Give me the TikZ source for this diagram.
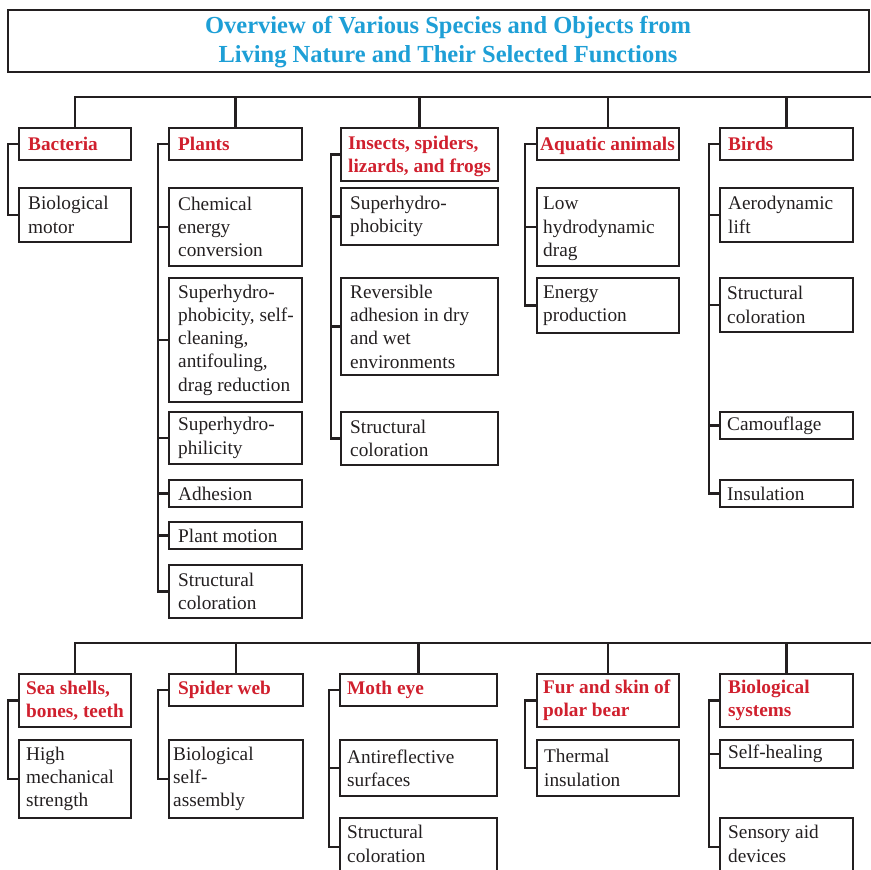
\documentclass[tikz,border=0pt]{standalone}
\usepackage{fontspec}
\setmainfont{Liberation Serif}
\definecolor{titlec}{HTML}{1E9FD6}
\definecolor{redc}{HTML}{D0202E}
\definecolor{linec}{HTML}{231F20}
\newcommand\bodyfnt{\fontsize{19.3}{23.3}\selectfont}
\newcommand\mybox[8]{%
  \node[boxst, minimum width=#4pt, minimum height=#5pt, anchor=north west] (#1) at (#2,#3) {};
  \node[#6txt, anchor=west, #7] (#1t) at (#1.west) {#8};
}
\tikzset{
  boxst/.style={draw=linec, line width=2.2pt, inner sep=0pt, outer sep=0pt},
  hdtxt/.style={font={\bodyfnt\bfseries}, text=redc, align=left, inner sep=0pt},
  chtxt/.style={font=\bodyfnt, text=linec, align=left, inner sep=0pt},
  conn/.style={draw=linec, line width=2.1pt},
}
\begin{document}
\begin{tikzpicture}[x=1pt,y=-1pt]
\useasboundingbox (0,0) rectangle (871,870);
% title
\node[boxst, minimum width=861pt, minimum height=62pt, anchor=north west] (title) at (8,10) {};
\node[font={\fontsize{24.5}{29}\selectfont\bfseries}, text=titlec, align=center, inner sep=0pt] (titletxt) at (448,41.7) {Overview of Various Species and Objects from\\Living Nature and Their Selected Functions};

% ---------- row 1 ----------
\mybox{bac}{19}{128}{112}{32}{hd}{xshift=9pt}{Bacteria}
\mybox{bac1}{19}{188}{112}{54}{ch}{xshift=9pt}{Biological\\motor}

\mybox{pl}{169}{128}{133}{32}{hd}{xshift=9pt}{Plants}
\mybox{pl1}{169}{188}{133}{78}{ch}{xshift=9pt}{Chemical\\energy\\conversion}
\mybox{pl2}{169}{278}{133}{124}{ch}{xshift=9pt}{Superhydro-\\phobicity, self-\\cleaning,\\antifouling,\\drag reduction}
\mybox{pl3}{169}{412}{133}{52}{ch}{xshift=9pt}{Superhydro-\\philicity}
\mybox{pl4}{169}{480}{133}{27}{ch}{xshift=9pt}{Adhesion}
\mybox{pl5}{169}{522}{133}{27}{ch}{xshift=9pt}{Plant motion}
\mybox{pl6}{169}{565}{133}{53}{ch}{xshift=9pt}{Structural\\coloration}

\mybox{in}{341}{128}{157}{53}{hd}{xshift=7pt,yshift=-2pt}{Insects, spiders,\\lizards, and frogs}
\mybox{in1}{341}{188}{157}{57}{ch}{xshift=9pt}{Superhydro-\\phobicity}
\mybox{in2}{341}{278}{157}{97}{ch}{xshift=9pt}{Reversible\\adhesion in dry\\and wet\\environments}
\mybox{in3}{341}{412}{157}{53}{ch}{xshift=9pt}{Structural\\coloration}

\mybox{aq}{537}{128}{142}{32}{hd}{xshift=3pt,yshift=-1.5pt}{Aquatic animals}
\mybox{aq1}{537}{188}{142}{78}{ch}{xshift=6pt,yshift=-2pt}{Low\\hydrodynamic\\drag}
\mybox{aq2}{537}{278}{142}{55}{ch}{xshift=6pt}{Energy\\production}

\mybox{bi}{720}{128}{133}{32}{hd}{xshift=8pt}{Birds}
\mybox{bi1}{720}{188}{133}{54}{ch}{xshift=8pt}{Aerodynamic\\lift}
\mybox{bi2}{720}{278}{133}{54}{ch}{xshift=7pt}{Structural\\coloration}
\mybox{bi3}{720}{412}{133}{27}{ch}{xshift=7pt}{Camouflage}
\mybox{bi4}{720}{480}{133}{27}{ch}{xshift=7pt}{Insulation}

% ---------- row 2 ----------
\mybox{ss}{19}{674}{112}{53}{hd}{xshift=7pt}{Sea shells,\\bones, teeth}
\mybox{ss1}{19}{740}{112}{78}{ch}{xshift=7pt}{High\\mechanical\\strength}

\mybox{sw}{169}{674}{134}{32}{hd}{xshift=9pt}{Spider web}
\mybox{sw1}{169}{740}{134}{78}{ch}{xshift=4pt}{Biological\\self-\\assembly}

\mybox{me}{340}{674}{157}{32}{hd}{xshift=7pt}{Moth eye}
\mybox{me1}{340}{740}{157}{56}{ch}{xshift=7pt}{Antireflective\\surfaces}
\mybox{me2}{340}{818}{157}{58}{ch}{xshift=7pt,yshift=3pt}{Structural\\coloration}

\mybox{fu}{537}{674}{142}{53}{hd}{xshift=6pt}{Fur and skin of\\polar bear}
\mybox{fu1}{537}{740}{142}{56}{ch}{xshift=7pt}{Thermal\\insulation}

\mybox{bs}{720}{674}{133}{53}{hd}{xshift=8pt}{Biological\\systems}
\mybox{bs1}{720}{740}{133}{28}{ch}{xshift=8pt}{Self-healing}
\mybox{bs2}{720}{818}{133}{58}{ch}{xshift=8pt,yshift=3pt}{Sensory aid\\devices}

% ---------- buses ----------
\coordinate (busA) at (873,97);
\draw[conn] (bac.north) |- (busA);
\foreach \n in {pl,in,aq,bi} \draw[conn] (\n.north) -- (\n.north |- busA);
\coordinate (busB) at (873,643);
\draw[conn] (ss.north) |- (busB);
\foreach \n in {sw,me,fu,bs} \draw[conn] (\n.north) -- (\n.north |- busB);

% ---------- trunks ----------
\draw[conn] (bac.west) -- ++(-11,0) |- (bac1.west);
\draw[conn] (pl.west) -- ++(-11,0) |- (pl6.west);
\foreach \n in {pl1,pl2,pl3,pl4,pl5} \draw[conn] (\n.west) -- ++(-11,0);
\draw[conn] (in.west) -- ++(-10,0) |- (in3.west);
\foreach \n in {in1,in2} \draw[conn] (\n.west) -- ++(-10,0);
\draw[conn] (aq.west) -- ++(-12,0) |- (aq2.west);
\draw[conn] (aq1.west) -- ++(-12,0);
\draw[conn] (bi.west) -- ++(-11,0) |- (bi4.west);
\foreach \n in {bi1,bi2,bi3} \draw[conn] (\n.west) -- ++(-11,0);

\draw[conn] (ss.west) -- ++(-11,0) |- (ss1.west);
\draw[conn] (sw.west) -- ++(-11,0) |- (sw1.west);
\draw[conn] (me.west) -- ++(-11,0) |- (me2.west);
\draw[conn] (me1.west) -- ++(-11,0);
\draw[conn] (fu.west) -- ++(-12,0) |- (fu1.west);
\draw[conn] (bs.west) -- ++(-11,0) |- (bs2.west);
\draw[conn] (bs1.west) -- ++(-11,0);
\end{tikzpicture}
\end{document}
